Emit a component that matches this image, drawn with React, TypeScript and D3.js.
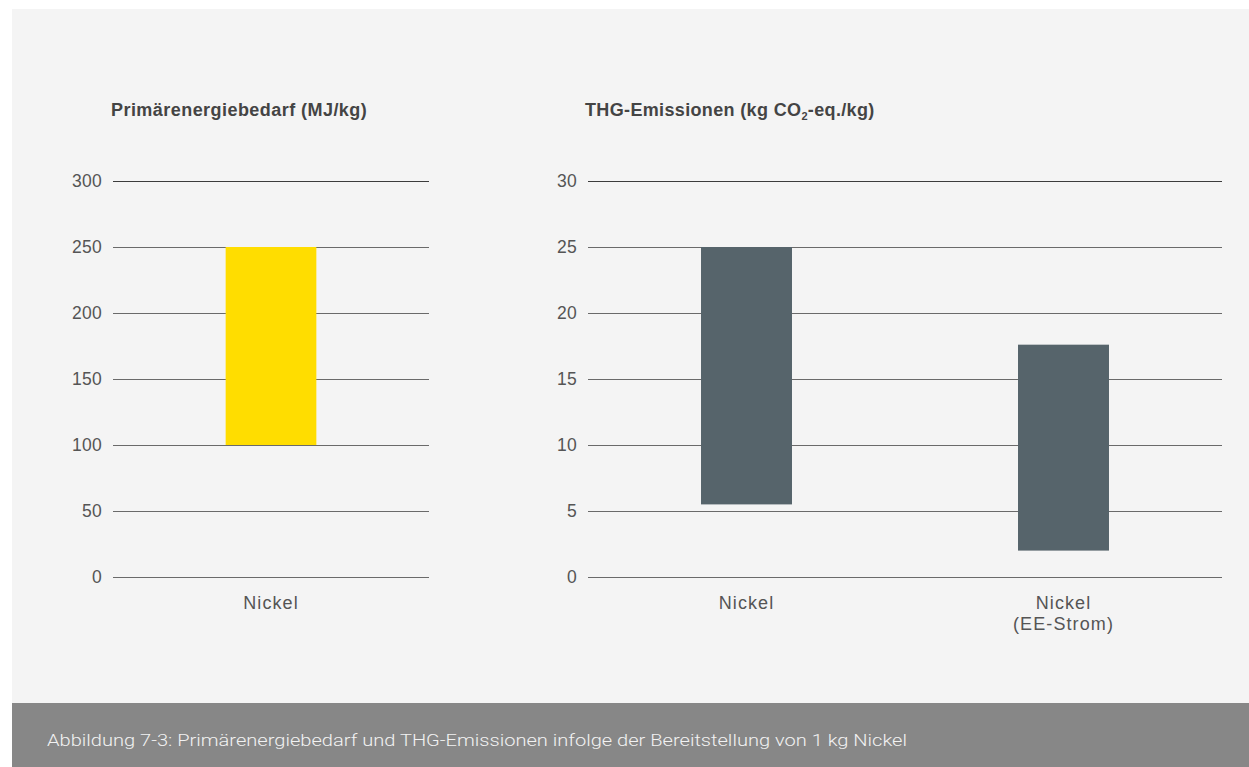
import React from "react";
import * as d3 from "d3";

const leftCategories = ["Nickel"];
const leftLow = [100];
const leftHigh = [250];
const leftTicks = [0, 50, 100, 150, 200, 250, 300];

const rightCategories = [["Nickel"], ["Nickel", "(EE-Strom)"]];
const rightLow = [5.5, 2];
const rightHigh = [25, 17.6];
const rightTicks = [0, 5, 10, 15, 20, 25, 30];

const caption =
  "Abbildung 7-3: Primärenergiebedarf und THG-Emissionen infolge der Bereitstellung von 1 kg Nickel";

const W = 1249;
const H = 767;
const FONT = "'Liberation Sans', Arial, Helvetica, sans-serif";

function Panel({
  x0,
  x1,
  yTop,
  yBottom,
  domainMax,
  ticks,
  cats,
  low,
  high,
  color,
  labelX,
}: {
  x0: number;
  x1: number;
  yTop: number;
  yBottom: number;
  domainMax: number;
  ticks: number[];
  cats: string[][];
  low: number[];
  high: number[];
  color: string;
  labelX: number;
}) {
  const y = d3.scaleLinear().domain([0, domainMax]).range([yBottom, yTop]);
  const x = d3
    .scaleBand<string>()
    .domain(cats.map((c, i) => String(i)))
    .range([x0, x1])
    .paddingInner(0.713)
    .paddingOuter(0.3565);
  return (
    <g>
      {ticks.map((t) => (
        <g key={t}>
          <line
            x1={x0}
            x2={x1}
            y1={Math.round(y(t)) + 0.5}
            y2={Math.round(y(t)) + 0.5}
            stroke={t === domainMax ? "#3c3c3c" : "#6a6a6a"}
            strokeWidth={1}
          />
          <text
            x={labelX}
            y={y(t)}
            dy="0.35em"
            textAnchor="end"
            fontSize={17.5}
            letterSpacing={0.3}
            fill="#555"
            fontFamily={FONT}
          >
            {t}
          </text>
        </g>
      ))}
      {cats.map((c, i) => (
        <rect
          key={i}
          x={x(String(i))}
          width={x.bandwidth()}
          y={y(high[i])}
          height={y(low[i]) - y(high[i])}
          fill={color}
        />
      ))}
      {cats.map((c, i) => (
        <text
          key={"l" + i}
          x={(x(String(i)) as number) + x.bandwidth() / 2}
          y={yBottom + 32}
          textAnchor="middle"
          fontSize={18}
          letterSpacing={1.1}
          fill="#555"
          fontFamily={FONT}
        >
          {c.map((line, j) => (
            <tspan key={j} x={(x(String(i)) as number) + x.bandwidth() / 2} dy={j === 0 ? 0 : 21}>
              {line}
            </tspan>
          ))}
        </text>
      ))}
    </g>
  );
}

export default function App() {
  return (
    <div style={{ position: "absolute", left: 0, top: 0 }}>
      <svg width={W} height={H} style={{ display: "block" }}>
        <rect x={0} y={0} width={W} height={H} fill="#ffffff" />
        <rect x={12} y={9} width={W - 12} height={694} fill="#f4f4f4" />
        <rect x={12} y={703} width={W - 12} height={64} fill="#878787" />
        <text
          x={111}
          y={116}
          fontSize={18}
          fontWeight="bold"
          letterSpacing={0.45}
          fill="#444"
          fontFamily={FONT}
        >
          Primärenergiebedarf (MJ/kg)
        </text>
        <text
          x={585}
          y={116}
          fontSize={18}
          fontWeight="bold"
          letterSpacing={0.35}
          fill="#444"
          fontFamily={FONT}
        >
          THG-Emissionen (kg CO
          <tspan fontSize={11} dy={4}>2</tspan>
          <tspan dy={-4}>-eq./kg)</tspan>
        </text>
        <Panel
          x0={113}
          x1={429}
          yTop={181}
          yBottom={577}
          domainMax={300}
          ticks={leftTicks}
          cats={leftCategories.map((c) => [c])}
          low={leftLow}
          high={leftHigh}
          color="#ffdd00"
          labelX={102}
        />
        <Panel
          x0={588}
          x1={1222}
          yTop={181}
          yBottom={577}
          domainMax={30}
          ticks={rightTicks}
          cats={rightCategories}
          low={rightLow}
          high={rightHigh}
          color="#56646b"
          labelX={577}
        />
        <text
          x={47}
          y={746}
          fontSize={16}
          fontWeight={300}
          fill="#f2f2f2"
          fontFamily="Roboto, 'Liberation Sans', sans-serif"
          textLength={860}
          lengthAdjust="spacingAndGlyphs"
        >
          {caption}
        </text>
      </svg>
    </div>
  );
}
